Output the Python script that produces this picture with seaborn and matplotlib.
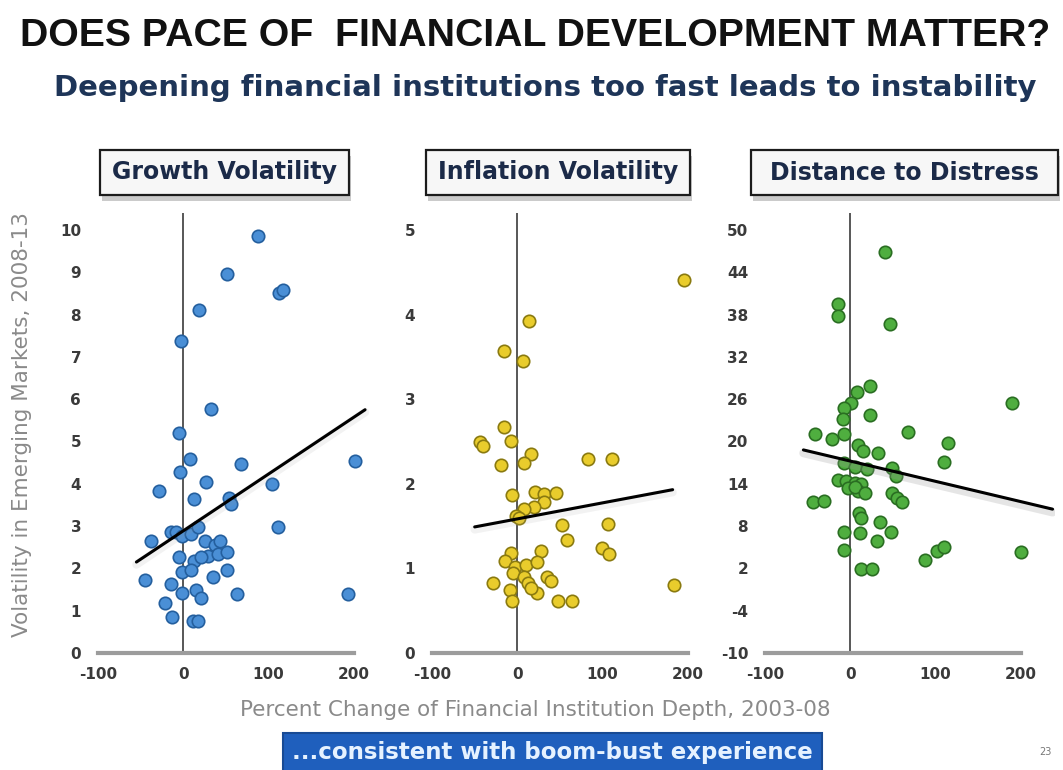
import numpy as np
import pandas as pd
import matplotlib
matplotlib.use('Agg')
import matplotlib.pyplot as plt
import seaborn as sns
from matplotlib.patches import Rectangle

# =============================================
# DATA
# =============================================
growth_x = [88, 51, 112, 117, 18, -3, 33, -5, 201, 8, -4, 68, -28, 26, 104, 12, 53, 56,
            111, -38, -15, -9, -1, 9, 17, 25, 37, 43, 29, 41, 51, -5, 13, 21, -1, 9, 51,
            35, -45, -14, -1, 15, 21, 63, 193, -21, -13, 11, 17]
growth_y = [9.86, 8.96, 8.5, 8.57, 8.1, 7.38, 5.77, 5.2, 4.54, 4.58, 4.29, 4.46, 3.82, 4.04,
            3.99, 3.64, 3.67, 3.53, 2.98, 2.64, 2.85, 2.85, 2.77, 2.81, 2.98, 2.64, 2.55,
            2.64, 2.3, 2.35, 2.39, 2.28, 2.17, 2.26, 1.92, 1.96, 1.96, 1.79, 1.73, 1.62,
            1.43, 1.48, 1.29, 1.40, 1.40, 1.19, 0.86, 0.75, 0.75]

inflation_x = [195, 14, -16, 7, -16, -44, -40, -7, 16, 8, -19, 83, 111, -6, 21, 31, 45, 31,
               19, 8, -2, 2, 52, 106, 58, 28, 99, 107, -8, -14, -3, 10, 23, -5, 8, 12, 35,
               39, -29, 184, -9, -6, 23, 16, 48, 64]
inflation_y = [4.41, 3.92, 3.57, 3.45, 2.67, 2.49, 2.45, 2.50, 2.35, 2.25, 2.22, 2.29, 2.29,
               1.87, 1.90, 1.88, 1.89, 1.79, 1.73, 1.70, 1.62, 1.59, 1.51, 1.52, 1.33, 1.21,
               1.24, 1.17, 1.18, 1.09, 1.02, 1.04, 1.07, 0.94, 0.90, 0.83, 0.90, 0.85, 0.83,
               0.80, 0.74, 0.62, 0.71, 0.77, 0.62, 0.62]

distress_x = [41, -15, -15, 47, 23, 8, 190, 1, -7, -9, 23, -42, -21, -7, 67, 114, 9, 15, 33,
              110, -7, 5, 19, 49, 53, -15, -5, 5, 12, -3, 9, 5, 17, -44, -31, 49, 55, 61,
              10, 12, 35, -7, 11, 48, 31, -7, 87, 101, 110, 200, 13, 25]
distress_y = [46.8, 39.5, 37.8, 36.7, 27.9, 27.0, 25.4, 25.4, 24.8, 23.2, 23.7, 21.0, 20.3,
              21.1, 21.4, 19.8, 19.5, 18.6, 18.4, 17.1, 16.9, 16.4, 16.1, 16.3, 15.1, 14.6,
              14.4, 14.1, 13.9, 13.4, 13.0, 13.5, 12.7, 11.4, 11.5, 12.7, 12.0, 11.4, 9.8,
              9.1, 8.6, 7.1, 7.0, 7.1, 5.9, 4.6, 3.2, 4.4, 5.1, 4.3, 1.9, 1.9]

# fitted lines as drawn on the slide (end points)
growth_fit_x = [-55, 213]
growth_fit_y = [2.15, 5.75]
inflation_fit_x = [-50, 182]
inflation_fit_y = [1.49, 1.93]
distress_fit_x = [-55, 237]
distress_fit_y = [18.8, 10.4]

panel_titles = ['Growth Volatility', 'Inflation Volatility', 'Distance to Distress']
x_ticks = [-100, 0, 100, 200]
growth_ticks = list(range(0, 11))
inflation_ticks = list(range(0, 6))
distress_ticks = [-10, -4, 2, 8, 14, 20, 26, 32, 38, 44, 50]

# =============================================
# SETUP
# =============================================
sns.set_style('white')
plt.rcParams['font.family'] = ['DejaVu Sans']

W, H = 1063, 770
fig = plt.figure(figsize=(W / 100, H / 100), dpi=100)
fig.patch.set_facecolor('white')


def px_rect(x0, y0, x1, y1):
    """pixel box (from top-left) -> figure fraction rect"""
    return [x0 / W, 1 - y1 / H, (x1 - x0) / W, (y1 - y0) / H]


panels = [
    dict(x=growth_x, y=growth_y, fx=growth_fit_x, fy=growth_fit_y, ticks=growth_ticks,
         ylim=(0, 10.4), face='#4a8fd6', edge='#245f9e', left=89.5, box=(100, 150, 349, 195),
         shadow_dy=0.06),
    dict(x=inflation_x, y=inflation_y, fx=inflation_fit_x, fy=inflation_fit_y,
         ticks=inflation_ticks, ylim=(0, 5.2), face='#e9cc2c', edge='#8a7a10', left=423.5,
         box=(426, 150, 690, 195), shadow_dy=0.03),
    dict(x=distress_x, y=distress_y, fx=distress_fit_x, fy=distress_fit_y,
         ticks=distress_ticks, ylim=(-10, 52.4), face='#4fae3f', edge='#2a6e22', left=756.5,
         box=(751, 150, 1058, 195), shadow_dy=0.45),
]

tick_font = dict(fontsize=11, fontweight='bold', color='#3a3a3a')

for i, p in enumerate(panels):
    ax = fig.add_axes(px_rect(p['left'], 213, p['left'] + 298.6, 653))
    df = pd.DataFrame({'x': p['x'], 'y': p['y']})
    ax.axvline(0, color='#4a4a4a', lw=1.3, zorder=1)

    sns.scatterplot(data=df, x='x', y='y', ax=ax, s=80, color=p['face'],
                    edgecolor=p['edge'], linewidth=1.2, zorder=3, legend=False)

    fit = pd.DataFrame({'x': p['fx'], 'y': p['fy']})
    # soft grey halo under the trend line
    shadow = fit.copy()
    shadow['y'] = shadow['y'] - p['shadow_dy']
    sns.lineplot(data=shadow, x='x', y='y', ax=ax, color='#9a9a9a', lw=6,
                 alpha=0.25 if i == 2 else 0.12, zorder=4)
    sns.lineplot(data=fit, x='x', y='y', ax=ax, color='black', lw=2.2, zorder=5)

    ax.set_xlim(-110, 240)
    ax.set_ylim(*p['ylim'])
    ax.set_xticks(x_ticks)
    ax.set_yticks(p['ticks'])
    ax.set_xticklabels([str(t) for t in x_ticks], **tick_font)
    ax.set_yticklabels([str(t) for t in p['ticks']], **tick_font)
    ax.tick_params(axis='both', length=0)
    ax.tick_params(axis='x', pad=10)
    ax.tick_params(axis='y', pad=6)
    ax.set_xlabel('')
    ax.set_ylabel('')
    for side in ['top', 'right', 'left']:
        ax.spines[side].set_visible(False)
    ax.spines['bottom'].set_color('#9c9c9c')
    ax.spines['bottom'].set_linewidth(3)
    ax.spines['bottom'].set_bounds(-100, 200)
    ax.patch.set_alpha(0)

    # title box with drop shadow
    x0, y0, x1, y1 = p['box']
    s = px_rect(x0 + 2, y0 + 6, x1 + 2, y1 + 6)
    fig.patches.append(Rectangle((s[0], s[1]), s[2], s[3], transform=fig.transFigure,
                                 facecolor='#8c8c8c', edgecolor='none', alpha=0.45, zorder=1))
    r = px_rect(x0, y0, x1, y1)
    fig.patches.append(Rectangle((r[0], r[1]), r[2], r[3], transform=fig.transFigure,
                                 facecolor='#f7f7f7', edgecolor='#1c1c1c', lw=1.6, zorder=2))
    fig.text((x0 + x1) / 2 / W, 1 - (y0 + y1) / 2 / H, panel_titles[i], ha='center',
             va='center', fontsize=17, fontweight='bold', color='#1b2a48', zorder=3)

# =============================================
# TEXT
# =============================================
fig.text(535 / W, 1 - 36 / H, 'DOES PACE OF  FINANCIAL DEVELOPMENT MATTER?',
         ha='center', va='center', fontsize=28.3, fontweight='bold', color='#111111',
         family=['Liberation Sans', 'DejaVu Sans'])
fig.text(545 / W, 1 - 88 / H, 'Deepening financial institutions too fast leads to instability',
         ha='center', va='center', fontsize=21, fontweight='bold', color='#1e3558')
fig.text(22 / W, 1 - 425 / H, 'Volatility in Emerging Markets, 2008-13', rotation=90,
         ha='center', va='center', fontsize=15.5, color='#8a8a8a')
fig.text(535 / W, 1 - 710 / H, 'Percent Change of Financial Institution Depth, 2003-08',
         ha='center', va='center', fontsize=15.5, color='#8a8a8a')

r = px_rect(283, 733, 822, 772)
fig.patches.append(Rectangle((r[0], r[1]), r[2], r[3], transform=fig.transFigure,
                             facecolor='#1f5fbd', edgecolor='#184a94', lw=1.5))
fig.text(552 / W, 1 - 753 / H, '...consistent with boom-bust experience', ha='center',
         va='center', fontsize=16.5, fontweight='bold', color='#e6f2ff')
fig.text(1045 / W, 1 - 752 / H, '23', ha='center', va='center', fontsize=7, color='#777777')

fig.savefig('out.png', dpi=100)
